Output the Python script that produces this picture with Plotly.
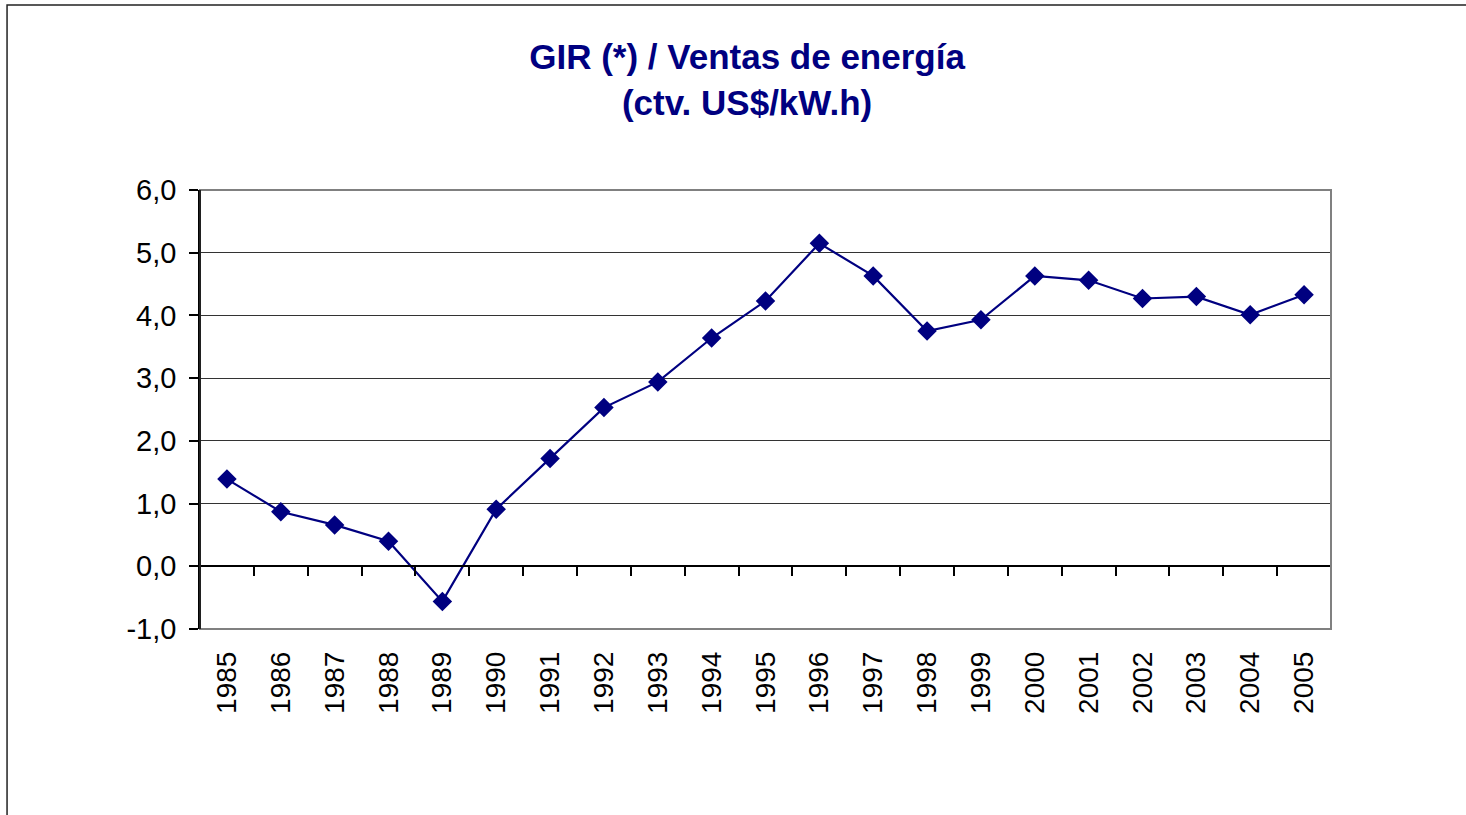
import plotly.graph_objects as go

years = [str(y) for y in range(1985, 2006)]
gir_ventas = [1.39, 0.87, 0.66, 0.40, -0.56, 0.91, 1.72, 2.53, 2.94, 3.64, 4.23,
              5.15, 4.63, 3.75, 3.93, 4.63, 4.56, 4.27, 4.30, 4.01, 4.33]
y_tickvals = [-1, 0, 1, 2, 3, 4, 5, 6]
y_ticktext = ["-1,0", "0,0", "1,0", "2,0", "3,0", "4,0", "5,0", "6,0"]
title_text = "GIR (*) / Ventas de energía<br>(ctv. US$/kW.h)"

navy = "#000080"
font_family = "Liberation Sans, Arial, sans-serif"

fig = go.Figure()
fig.add_trace(go.Scatter(
    x=years, y=gir_ventas, mode="lines+markers",
    line=dict(color=navy, width=2.2),
    marker=dict(symbol="diamond", size=15, color=navy),
    showlegend=False, hoverinfo="x+y",
))
# invisible trace to host the zero-crossing category axis
fig.add_trace(go.Scatter(
    x=years, y=gir_ventas, xaxis="x2", mode="markers",
    marker=dict(opacity=0), showlegend=False, hoverinfo="skip",
))

ymin, ymax = -1, 6
zero_pos = (0 - ymin) / (ymax - ymin)

fig.update_layout(
    width=1466, height=815,
    margin=dict(l=200, r=135, t=190, b=186),
    paper_bgcolor="white", plot_bgcolor="white",
    separators=",.",
    font=dict(family=font_family, size=28, color="black"),
    title=dict(text=title_text, x=0.5096, xanchor="center", xref="container",
               y=0.9153, yanchor="middle", yref="container",
               font=dict(family=font_family, size=35, color=navy, weight="bold")),
    xaxis=dict(type="category", range=[-0.5, 20.5], showgrid=False, zeroline=False,
               showline=False, ticks="", tickangle=-90, ticklabelstandoff=16,
               tickfont=dict(size=28, color="black")),
    xaxis2=dict(type="category", range=[-0.5, 20.5], overlaying="x", anchor="free",
                position=zero_pos, side="bottom", showgrid=False, zeroline=False,
                showline=True, linecolor="black", linewidth=1.5,
                ticks="outside", ticklen=9, tickwidth=1.5, tickcolor="black",
                tickson="boundaries", showticklabels=False),
    yaxis=dict(range=[ymin, ymax], tickvals=y_tickvals, ticktext=y_ticktext,
               showgrid=True, gridcolor="#333333", gridwidth=1, zeroline=False,
               showline=True, linecolor="black", linewidth=1.5,
               ticks="outside", ticklen=9, tickwidth=1.5, tickcolor="black",
               ticklabelstandoff=7, tickfont=dict(size=29, color="black")),
    shapes=[
        dict(type="rect", xref="x domain", yref="y domain", x0=0, x1=1, y0=0, y1=1,
             line=dict(color="#808080", width=2), layer="above"),
        dict(type="line", xref="x domain", yref="y domain", x0=0, x1=0, y0=0, y1=1,
             line=dict(color="black", width=1.5), layer="above"),
        dict(type="rect", xref="paper", yref="paper", x0=-0.1706, x1=1.3, y0=-0.6, y1=1.4214,
             line=dict(color="#222222", width=1.5), layer="below"),
    ],
)

fig.write_html("out.html", config={"displayModeBar": False},
               post_script="document.body.style.margin='0';")
